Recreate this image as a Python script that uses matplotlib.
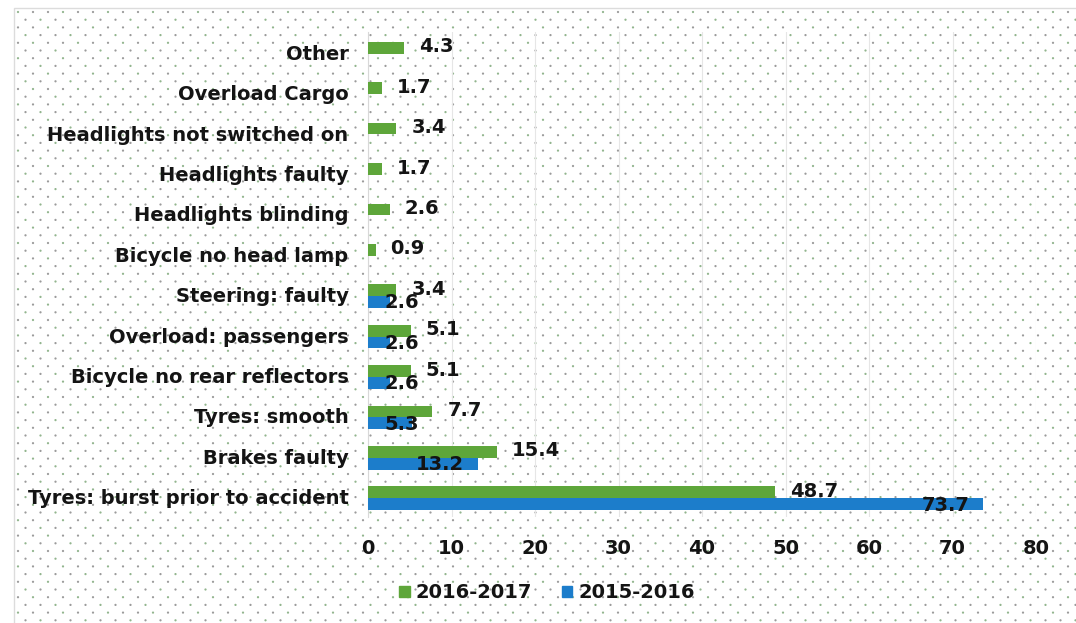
#!/usr/bin/env python

import numpy as np
import matplotlib
matplotlib.use('Agg')
import matplotlib.pyplot as plt
from matplotlib.patches import Patch, Rectangle

# causes, listed bottom to top
causes = ['Tyres: burst prior to accident', 'Brakes faulty', 'Tyres: smooth',
          'Bicycle no rear reflectors', 'Overload: passengers', 'Steering: faulty',
          'Bicycle no head lamp', 'Headlights blinding', 'Headlights faulty',
          'Headlights not switched on', 'Overload Cargo', 'Other']
pct_2016_17 = [48.7, 15.4, 7.7, 5.1, 5.1, 3.4, 0.9, 2.6, 1.7, 3.4, 1.7, 4.3]
pct_2015_16 = [73.7, 13.2, 5.3, 2.6, 2.6, 2.6, None, None, None, None, None, None]
x_ticks = [0, 10, 20, 30, 40, 50, 60, 70, 80]

GREEN = '#5ea63a'
BLUE = '#1c7dcb'
TXT = '#141414'
FS = 14


def main():
  plt.close('all')
  plt.rcParams['font.family'] = ['DejaVu Sans']
  plt.rcParams['font.weight'] = 'bold'

  W, H = 1076, 623
  fig = plt.figure(figsize=(W / 100, H / 100), dpi=100)
  fig.patch.set_facecolor('white')

  # dotted paper texture behind the chart
  bg = fig.add_axes([0, 0, 1, 1], zorder=-5)
  bg.set_xlim(0, W)
  bg.set_ylim(H, 0)
  bg.axis('off')
  bg.add_patch(Rectangle((14, 8), W, H, facecolor='white', edgecolor='#dcdcdc', lw=1))
  xs, ys = [], []
  for k, yy in enumerate(np.arange(12, H, 7.7)):
    start = 18 if k % 2 == 0 else 25.5
    for xx in np.arange(start, W, 15):
      xs.append(xx)
      ys.append(yy)
  cols = np.where((np.arange(len(xs)) % 3) == 0, '#7fa87a', '#8a8a8a')
  bg.scatter(xs, ys, s=2.6, c=cols, linewidths=0, alpha=0.85)

  ax = fig.add_axes([368 / W, 1 - 517 / H, (1036 - 368) / W, (517 - 32) / H])
  ax.set_facecolor('none')

  pos = np.arange(len(causes))
  h = 0.29
  g_off = 0.11
  b_off = -0.18
  g = np.array(pct_2016_17, dtype=float)
  b = np.array([np.nan if v is None else v for v in pct_2015_16], dtype=float)

  ax.barh(pos + g_off, g, height=h, color=GREEN, zorder=3)
  ax.barh(pos + b_off, np.nan_to_num(b), height=h, color=BLUE, zorder=3)

  # value labels: 2016-17 outside the bar end, 2015-16 at the inside end
  for i, v in enumerate(g):
    ax.annotate('%.1f' % v, (v, pos[i] + g_off), xytext=(15, 1),
                textcoords='offset pixels', ha='left', va='center',
                fontsize=FS, fontweight='bold', color=TXT, zorder=5)
  for i, v in enumerate(b):
    if np.isnan(v):
      continue
    if v < 8:
      ax.annotate('%.1f' % v, (0, pos[i] + b_off), xytext=(16, -1),
                  textcoords='offset pixels', ha='left', va='center',
                  fontsize=FS, fontweight='bold', color=TXT, zorder=5)
    else:
      ax.annotate('%.1f' % v, (v, pos[i] + b_off), xytext=(-14, -1),
                  textcoords='offset pixels', ha='right', va='center',
                  fontsize=FS, fontweight='bold', color=TXT, zorder=5)

  ax.set_xlim(0, 80)
  ax.set_ylim(-0.5, len(causes) - 0.5)
  ax.set_xticks(x_ticks)
  ax.set_xticklabels([str(t) for t in x_ticks], fontsize=FS, fontweight='bold', color=TXT)
  ax.set_yticks(pos)
  ax.set_yticklabels(causes, fontsize=FS, fontweight='bold', color=TXT)
  ax.tick_params(axis='both', length=0)
  ax.tick_params(axis='x', pad=16)
  ax.tick_params(axis='y', pad=14)
  ax.xaxis.grid(True, color='#e6e6e6', lw=0.8, zorder=0)
  for s in ['top', 'right', 'bottom']:
    ax.spines[s].set_visible(False)
  ax.spines['left'].set_color('#d8d8d8')

  handles = [Patch(color=GREEN, label='2016-2017'), Patch(color=BLUE, label='2015-2016')]
  fig.legend(handles=handles, loc='center', bbox_to_anchor=(547 / W, 1 - 593 / H),
             ncol=2, frameon=False, handlelength=0.55, handleheight=0.55,
             handletextpad=0.3, columnspacing=1.5,
             prop={'size': FS, 'weight': 'bold'}, labelcolor=TXT)

  plt.savefig('out.png', dpi=100)


if __name__ == "__main__":
  main()
